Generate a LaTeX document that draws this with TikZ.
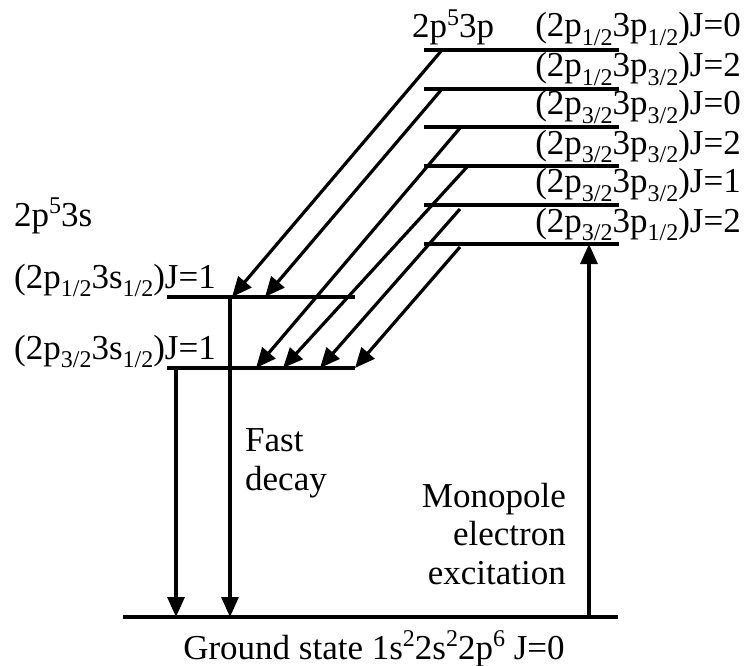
\documentclass[tikz,border=0pt]{standalone}
\usepackage{fontspec}
\setmainfont{Liberation Serif}
\usetikzlibrary{arrows.meta}
\newcommand\sbx[1]{\raisebox{-0.24em}{\fontsize{24}{24}\selectfont #1}}
\newcommand\spx[1]{\raisebox{0.36em}{\fontsize{24}{24}\selectfont #1}}
\begin{document}
\begin{tikzpicture}[x=1pt,y=-1pt,
  lbl/.style={inner sep=0pt,font=\fontsize{35}{38.5}\selectfont},
  level/.style={line width=3.6pt},
  trans/.style={line width=3.2pt,-{Triangle[length=20pt,width=17pt]}}]
\useasboundingbox (0,0) rectangle (747,666);
% upper levels 2p53p
\foreach \i/\y in {1/50,2/89,3/127,4/166,5/205,6/244}{
  \coordinate (uL\i) at (424,\y);
  \coordinate (uR\i) at (619,\y);
  \draw[level] (uL\i) -- (uR\i);
}
% lower levels 2p53s
\coordinate (aL) at (167,297); \coordinate (aR) at (355,297);
\coordinate (bL) at (167,368); \coordinate (bR) at (355,368);
\draw[level] (aL) -- (aR);
\draw[level] (bL) -- (bR);
% ground
\coordinate (gL) at (123,617); \coordinate (gR) at (618,617);
\draw[level] (gL) -- (gR);
% labels
\node[lbl,anchor=base west] (t3p) at (412,38) {2p\spx{5}3p};
\node[lbl,anchor=base east] (l1) at (741,37) {(2p\sbx{1/2}3p\sbx{1/2})J=0};
\node[lbl,anchor=base east] (l2) at (741,77) {(2p\sbx{1/2}3p\sbx{3/2})J=2};
\node[lbl,anchor=base east] (l3) at (741,115) {(2p\sbx{3/2}3p\sbx{3/2})J=0};
\node[lbl,anchor=base east] (l4) at (741,154) {(2p\sbx{3/2}3p\sbx{3/2})J=2};
\node[lbl,anchor=base east] (l5) at (741,193) {(2p\sbx{3/2}3p\sbx{3/2})J=1};
\node[lbl,anchor=base east] (l6) at (741,232) {(2p\sbx{3/2}3p\sbx{1/2})J=2};
\node[lbl,anchor=base west] (t3s) at (14,226) {2p\spx{5}3s};
\node[lbl,anchor=base west] (la) at (14,288) {(2p\sbx{1/2}3s\sbx{1/2})J=1};
\node[lbl,anchor=base west] (lb) at (14,359) {(2p\sbx{3/2}3s\sbx{1/2})J=1};
\node[lbl,anchor=base west,align=left] (fd) at (245,490) {Fast\\decay};
\node[lbl,anchor=base east,align=right] (me) at (566,584) {Monopole\\electron\\excitation};
\node[lbl,anchor=base] (gs) at (374,659) {Ground state 1s\spx{2}2s\spx{2}2p\spx{6} J=0};
% diagonal decays
\coordinate (s1) at (442,50);  \coordinate (e1) at (232,297);
\coordinate (s2) at (442,89);  \coordinate (e2) at (265,297);
\coordinate (s3) at (460,128); \coordinate (e3) at (256,368);
\coordinate (s4) at (467,167); \coordinate (e4) at (283,368);
\coordinate (s5) at (460,209); \coordinate (e5) at (320,368);
\coordinate (s6) at (460,247); \coordinate (e6) at (355,368);
\foreach \k in {1,...,6}{\draw[trans] (s\k) -- (e\k);}
% vertical transitions
\coordinate (v1s) at (176,368); \coordinate (v1e) at (176,617);
\coordinate (v2s) at (230,297); \coordinate (v2e) at (230,617);
\coordinate (v3s) at (589,617); \coordinate (v3e) at (589,244);
\draw[trans] (v1s) -- (v1e);
\draw[trans] (v2s) -- (v2e);
\draw[trans] (v3s) -- (v3e);
\end{tikzpicture}
\end{document}
